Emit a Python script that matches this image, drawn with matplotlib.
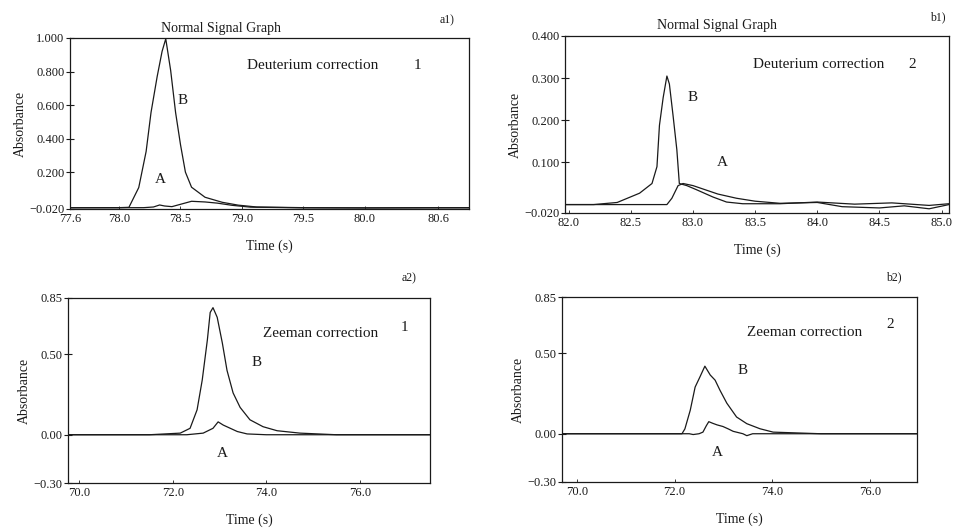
import matplotlib
matplotlib.use("Agg")
import matplotlib.pyplot as plt

plt.rcParams['font.family'] = ['Liberation Serif', 'DejaVu Serif']

# ---------------- data ----------------
# a1) Normal signal graph, deuterium correction, sample 1
a1_t_B = [77.6, 78.0, 78.08, 78.16, 78.22, 78.26, 78.31, 78.35, 78.38, 78.42, 78.46, 78.5,
          78.54, 78.59, 78.7, 78.84, 78.97, 79.12, 79.5, 80.0, 80.5, 80.85]
a1_B = [-0.012, -0.012, -0.01, 0.108, 0.323, 0.556, 0.77, 0.92, 0.995, 0.806, 0.556, 0.364,
        0.2, 0.11, 0.05, 0.02, 0.003, -0.008, -0.012, -0.013, -0.012, -0.012]
a1_t_A = [77.6, 78.2, 78.28, 78.33, 78.37, 78.43, 78.5, 78.59, 78.7, 78.8, 78.92, 79.07,
          79.5, 80.0, 80.85]
a1_A = [-0.013, -0.012, -0.008, 0.004, -0.002, -0.006, 0.008, 0.026, 0.022, 0.015, 0.002,
        -0.009, -0.013, -0.014, -0.013]

# b1) Normal signal graph, deuterium correction, sample 2
b1_t_B = [81.97, 82.2, 82.39, 82.57, 82.67, 82.71, 82.73, 82.76, 82.79, 82.81, 82.84, 82.87,
          82.89, 82.95, 83.03, 83.16, 83.27, 83.4, 83.7, 84.0, 84.3, 84.6, 84.9, 85.06]
b1_B = [0.0, 0.0, 0.005, 0.027, 0.05, 0.09, 0.188, 0.254, 0.305, 0.286, 0.21, 0.13,
        0.05, 0.045, 0.035, 0.018, 0.006, 0.002, 0.002, 0.006, 0.001, 0.004, -0.002, 0.002]
b1_t_A = [81.97, 82.5, 82.79, 82.83, 82.88, 82.92, 83.0, 83.1, 83.2, 83.35, 83.5, 83.7,
          84.0, 84.2, 84.5, 84.7, 84.9, 85.06]
b1_A = [0.0, 0.0, 0.0, 0.015, 0.045, 0.05, 0.045, 0.035, 0.025, 0.015, 0.008, 0.003,
        0.005, -0.005, -0.008, -0.003, -0.01, 0.0]

# a2) Zeeman correction, sample 1
a2_t_B = [69.76, 70.5, 71.5, 72.16, 72.37, 72.52, 72.63, 72.74, 72.8, 72.86, 72.95, 73.06,
          73.16, 73.29, 73.44, 73.65, 73.93, 74.23, 74.72, 75.5, 76.5, 77.5]
a2_B = [0.0, 0.0, 0.0, 0.01, 0.04, 0.155, 0.34, 0.59, 0.76, 0.79, 0.73, 0.57,
        0.40, 0.26, 0.17, 0.093, 0.05, 0.025, 0.01, 0.0, 0.0, 0.0]
a2_t_A = [69.76, 71.0, 72.3, 72.65, 72.86, 72.97, 73.08, 73.23, 73.38, 73.59, 74.0, 75.5, 77.5]
a2_A = [0.0, 0.0, 0.0, 0.01, 0.04, 0.08, 0.06, 0.04, 0.02, 0.005, 0.0, 0.0, 0.0]

# b2) Zeeman correction, sample 2
b2_t_B = [69.69, 71.0, 72.15, 72.21, 72.32, 72.42, 72.52, 72.62, 72.73, 72.83, 72.93, 73.07,
          73.27, 73.48, 73.75, 74.02, 75.0, 76.97]
b2_B = [0.0, 0.0, 0.0, 0.03, 0.146, 0.29, 0.354, 0.42, 0.365, 0.333, 0.27, 0.19,
        0.104, 0.0625, 0.031, 0.01, 0.0, 0.0]
b2_t_A = [69.69, 71.0, 72.3, 72.38, 72.5, 72.58, 72.65, 72.7, 72.78, 72.87, 72.99, 73.1,
          73.2, 73.4, 73.48, 73.6, 74.5, 76.97]
b2_A = [0.0, 0.0, 0.0, -0.005, 0.0, 0.01, 0.05, 0.075, 0.065, 0.055, 0.045, 0.03,
        0.015, 0.0, -0.012, 0.0, 0.0, 0.0]

# tick labels
a1_xticks = [77.6, 78.0, 78.5, 79.0, 79.5, 80.0, 80.6]
a1_xlabels = ['77.6', '78.0', '78.5', '79.0', '79.5', '80.0', '80.6']
a1_yticks = [-0.02, 0.2, 0.4, 0.6, 0.8, 1.0]
a1_ylabels = ['\u22120.020', '0.200', '0.400', '0.600', '0.800', '1.000']
b1_xticks = [82.0, 82.5, 83.0, 83.5, 84.0, 84.5, 85.0]
b1_xlabels = ['82.0', '82.5', '83.0', '83.5', '84.0', '84.5', '85.0']
b1_yticks = [-0.02, 0.1, 0.2, 0.3, 0.4]
b1_ylabels = ['\u22120.020', '0.100', '0.200', '0.300', '0.400']
z_xticks = [70.0, 72.0, 74.0, 76.0]
z_xlabels = ['70.0', '72.0', '74.0', '76.0']
z_yticks = [-0.3, 0.0, 0.5, 0.85]
z_ylabels = ['\u22120.30', '0.00', '0.50', '0.85']

# ---------------- figure ----------------
W, H = 954, 528
fig = plt.figure(figsize=(W / 100, H / 100), dpi=100)
ink = '#1a1a1a'
lw = 0.9
fs_note = 11


def add_ax(l, t, r, b):
    return fig.add_axes([l / W, 1 - b / H, (r - l) / W, (b - t) / H])


def style(ax, xlim, ylim, xt, xl, yt, yl):
    ax.set_xlim(*xlim)
    ax.set_ylim(*ylim)
    ax.set_xticks(xt)
    ax.set_xticklabels(xl)
    ax.set_yticks(yt)
    ax.set_yticklabels(yl)
    for s in ax.spines.values():
        s.set_linewidth(0.9)
        s.set_color(ink)
    ax.tick_params(axis='y', direction='inout', length=6, width=0.8, labelsize=9, pad=1, colors=ink)
    ax.tick_params(axis='x', direction='in', length=2, width=0.6, labelsize=9, pad=3, colors=ink)
    ax.set_ylabel('Absorbance', fontsize=10, labelpad=2, color=ink)
    ax.set_xlabel('Time (s)', fontsize=10, labelpad=10, color=ink)


def note(ax, x, y, s, ha='center'):
    ax.text(x, y, s, transform=ax.transAxes, fontsize=fs_note, color=ink, va='center', ha=ha)


# a1
ax = add_ax(70, 38, 469, 209)
ax.plot(a1_t_B, a1_B, color=ink, lw=lw)
ax.plot(a1_t_A, a1_A, color=ink, lw=lw)
style(ax, (77.6, 80.85), (-0.02, 1.0), a1_xticks, a1_xlabels, a1_yticks, a1_ylabels)
ax.text(0.378, 1.02, 'Normal Signal Graph', transform=ax.transAxes, fontsize=10, color=ink,
        ha='center', va='bottom')
note(ax, 0.444, 0.84, 'Deuterium correction', ha='left')
note(ax, 0.872, 0.84, '1')
note(ax, 0.283, 0.637, 'B')
note(ax, 0.226, 0.17, 'A')
fig.text(440 / W, 1 - 20 / H, 'a1)', fontsize=8.5, color=ink, va='center')

# b1
ax = add_ax(565, 36, 949, 213)
ax.plot(b1_t_B, b1_B, color=ink, lw=lw)
ax.plot(b1_t_A, b1_A, color=ink, lw=lw)
style(ax, (81.97, 85.06), (-0.02, 0.4), b1_xticks, b1_xlabels, b1_yticks, b1_ylabels)
ax.text(0.396, 1.02, 'Normal Signal Graph', transform=ax.transAxes, fontsize=10, color=ink,
        ha='center', va='bottom')
note(ax, 0.49, 0.84, 'Deuterium correction', ha='left')
note(ax, 0.904, 0.84, '2')
note(ax, 0.333, 0.655, 'B')
note(ax, 0.409, 0.288, 'A')
fig.text(930 / W, 1 - 17 / H, 'b1)', fontsize=8.5, color=ink, va='center')

# a2
ax = add_ax(68, 298, 430, 483)
ax.plot(a2_t_B, a2_B, color=ink, lw=lw)
ax.plot(a2_t_A, a2_A, color=ink, lw=lw)
style(ax, (69.76, 77.5), (-0.3, 0.85), z_xticks, z_xlabels, z_yticks, z_ylabels)
note(ax, 0.539, 0.81, 'Zeeman correction', ha='left')
note(ax, 0.93, 0.84, '1')
note(ax, 0.522, 0.654, 'B')
note(ax, 0.425, 0.162, 'A')
fig.text(402 / W, 1 - 278 / H, 'a2)', fontsize=8.5, color=ink, va='center')

# b2
ax = add_ax(562, 297, 917, 482)
ax.plot(b2_t_B, b2_B, color=ink, lw=lw)
ax.plot(b2_t_A, b2_A, color=ink, lw=lw)
style(ax, (69.69, 76.97), (-0.3, 0.85), z_xticks, z_xlabels, z_yticks, z_ylabels)
note(ax, 0.521, 0.81, 'Zeeman correction', ha='left')
note(ax, 0.924, 0.85, '2')
note(ax, 0.51, 0.605, 'B')
note(ax, 0.437, 0.157, 'A')
fig.text(886 / W, 1 - 277 / H, 'b2)', fontsize=8.5, color=ink, va='center')

fig.savefig('out.png', dpi=100, facecolor='white')
